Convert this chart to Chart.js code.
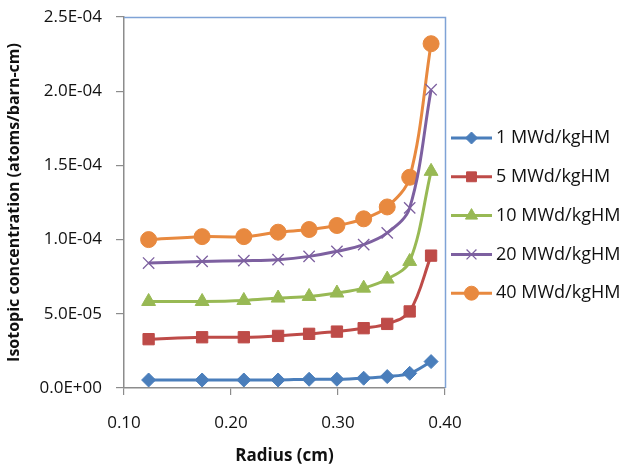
<!DOCTYPE html>
<html>
<head>
<meta charset="utf-8">
<script src="https://cdn.jsdelivr.net/npm/chart.js@4/dist/chart.umd.min.js"></script>
<style>
html,body{margin:0;padding:0;background:#fff;}
#wrap{width:631px;height:466px;position:relative;}
</style>
</head>
<body>
<div id="wrap"><canvas id="c" width="631" height="466"></canvas></div>
<script>
const radius = [0.123, 0.173, 0.212, 0.244, 0.273, 0.299, 0.324, 0.346, 0.367, 0.387];
const seriesNames = ["1 MWd/kgHM", "5 MWd/kgHM", "10 MWd/kgHM", "20 MWd/kgHM", "40 MWd/kgHM"];
const burnup1  = [5.4e-6, 5.4e-6, 5.4e-6, 5.4e-6, 5.9e-6, 5.9e-6, 6.6e-6, 7.7e-6, 9.9e-6, 1.78e-5];
const burnup5  = [3.29e-5, 3.42e-5, 3.42e-5, 3.51e-5, 3.65e-5, 3.80e-5, 4.03e-5, 4.32e-5, 5.16e-5, 8.92e-5];
const burnup10 = [5.83e-5, 5.83e-5, 5.90e-5, 6.06e-5, 6.17e-5, 6.40e-5, 6.73e-5, 7.34e-5, 8.53e-5, 1.46e-4];
const burnup20 = [8.42e-5, 8.53e-5, 8.58e-5, 8.65e-5, 8.87e-5, 9.21e-5, 9.66e-5, 1.045e-4, 1.214e-4, 2.01e-4];
const burnup40 = [1.00e-4, 1.02e-4, 1.02e-4, 1.05e-4, 1.068e-4, 1.095e-4, 1.14e-4, 1.22e-4, 1.42e-4, 2.32e-4];
const xTicks = [0.10, 0.20, 0.30, 0.40];
const yTicks = [0, 5e-5, 1e-4, 1.5e-4, 2e-4, 2.5e-4];

const colors = ["#4A7EBB", "#BE4B48", "#98B954", "#7D60A0", "#E8893F"];
const styles = ["rectRot", "rect", "triangle", "crossRot", "circle"];
const radii = [7, 8, 8, 8, 8];
const allSeries = [burnup1, burnup5, burnup10, burnup20, burnup40];

const FONT = "'Open Sans', 'Liberation Sans', sans-serif";
const TXT = "#111";

function fmtExp(v) {
  let s = Number(v).toExponential(1);
  let [m, e] = s.split("e");
  let sign = e[0] === "-" ? "-" : "+";
  let d = e.replace(/^[+-]/, "");
  if (d.length < 2) d = "0" + d;
  return m + "E" + sign + d;
}

const datasets = allSeries.map((vals, i) => ({
  label: seriesNames[i],
  data: vals.map((v, j) => ({x: radius[j], y: v})),
  borderColor: colors[i],
  backgroundColor: colors[i],
  pointBackgroundColor: colors[i],
  pointBorderColor: colors[i],
  pointStyle: styles[i],
  pointRadius: radii[i],
  pointBorderWidth: styles[i] === "crossRot" ? 1.3 : 1,
  borderWidth: 3,
  tension: 0.35,
  showLine: true
}));

const framePlugin = {
  id: "frame",
  afterDatasetsDraw(chart) {
    const {ctx, chartArea: a} = chart;
    ctx.save();
    ctx.strokeStyle = "#7FA3D6";
    ctx.lineWidth = 1.5;
    ctx.beginPath();
    ctx.moveTo(a.left, a.top + 0.5);
    ctx.lineTo(a.right + 0.5, a.top + 0.5);
    ctx.lineTo(a.right + 0.5, a.bottom);
    ctx.stroke();
    ctx.restore();
  }
};

const legendPlugin = {
  id: "customLegend",
  afterDraw(chart) {
    const {ctx} = chart;
    ctx.save();
    const x0 = 451, x1 = 492, tx = 496;
    const y0 = 138, dy = 38.8;
    chart.data.datasets.forEach((ds, i) => {
      const y = y0 + i * dy;
      ctx.strokeStyle = ds.borderColor;
      ctx.lineWidth = 3;
      ctx.beginPath();
      ctx.moveTo(x0, y);
      ctx.lineTo(x1, y);
      ctx.stroke();
      ctx.fillStyle = ds.backgroundColor;
      ctx.strokeStyle = ds.borderColor;
      ctx.lineWidth = ds.pointBorderWidth;
      Chart.helpers.drawPoint(ctx, {pointStyle: ds.pointStyle, radius: ds.pointRadius - 1, rotation: 0, borderWidth: ds.pointBorderWidth}, (x0 + x1) / 2, y);
      ctx.fillStyle = TXT;
      ctx.font = "18px " + FONT;
      ctx.textBaseline = "middle";
      ctx.textAlign = "left";
      ctx.fillText(ds.label, tx, y);
    });
    ctx.restore();
  }
};

new Chart(document.getElementById("c"), {
  type: "scatter",
  data: {datasets},
  options: {
    responsive: false,
    animation: false,
    devicePixelRatio: 1,
    layout: {padding: {top: 17, right: 186, left: 0, bottom: 0}},
    plugins: {legend: {display: false}, tooltip: {enabled: false}},
    scales: {
      x: {
        type: "linear",
        min: 0.1, max: 0.4,
        afterBuildTicks(scale) { scale.ticks = xTicks.map(v => ({value: v})); },
        afterFit(scale) { scale.height = 78; },
        grid: {drawOnChartArea: false, color: "#8c8c8c", tickLength: 7, lineWidth: 1.2},
        border: {color: "#8c8c8c", width: 1.5},
        ticks: {
          color: TXT,
          font: {family: FONT, size: 17},
          padding: 18,
          callback: v => Number(v).toFixed(2)
        },
        title: {
          display: true, text: "Radius (cm)", color: TXT,
          font: {family: FONT, size: 17, weight: "bold"},
          padding: {top: 4, bottom: 0}
        }
      },
      y: {
        type: "linear",
        min: 0, max: 2.5e-4,
        afterBuildTicks(scale) { scale.ticks = yTicks.map(v => ({value: v})); },
        afterFit(scale) { scale.width = 124; scale.paddingTop = 0; scale.paddingBottom = 0; },
        grid: {drawOnChartArea: false, color: "#8c8c8c", tickLength: 8, lineWidth: 1.2},
        border: {color: "#8c8c8c", width: 1.5},
        ticks: {
          color: TXT,
          font: {family: FONT, size: 17},
          padding: 14,
          callback: v => fmtExp(v)
        },
        title: {
          display: true, text: "Isotopic concentration (atoms/barn-cm)", color: TXT,
          font: {family: FONT, size: 16, weight: "bold"},
          padding: {top: 5, bottom: 0}
        }
      }
    }
  },
  plugins: [framePlugin, legendPlugin]
});
</script>
</body>
</html>
